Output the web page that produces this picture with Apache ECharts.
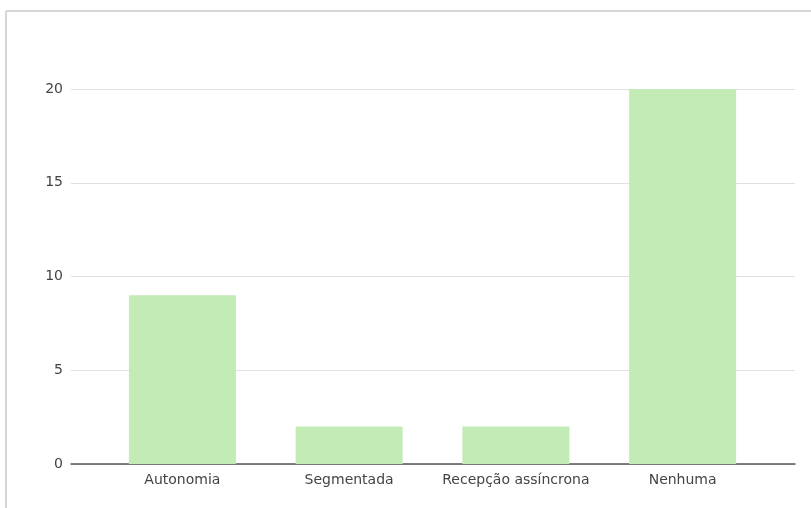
<!DOCTYPE html>
<html>
<head>
<meta charset="utf-8">
<script src="https://cdn.jsdelivr.net/npm/echarts@6/dist/echarts.min.js"></script>
<style>
html, body { margin: 0; padding: 0; background: #fff; }
#chart { width: 811px; height: 508px; }
</style>
</head>
<body>
<div id="chart"></div>
<script>
var categories = ['Autonomia', 'Segmentada', 'Recepção assíncrona', 'Nenhuma'];
var values = [9, 2, 2, 20];
var yTicks = [0, 5, 10, 15, 20];

var myChart = echarts.init(document.getElementById('chart'));
var font = '"DejaVu Sans", sans-serif';
option = {
    animation: false,
    textStyle: { fontFamily: font },
    graphic: [
        // frame of the sheet
        { type: 'line', shape: { x1: 6, y1: 11, x2: 811, y2: 11 }, style: { stroke: '#c8c8c8', lineWidth: 1.5 } },
        { type: 'line', shape: { x1: 6, y1: 11, x2: 6, y2: 508 }, style: { stroke: '#c8c8c8', lineWidth: 1.5 } }
    ],
    grid: [
        { left: 71, right: 16, top: 89, bottom: 44 },   // gridlines + baseline
        { left: 99, right: 45, top: 89, bottom: 44 }    // bars
    ],
    xAxis: [
        {
            type: 'category', gridIndex: 0, data: categories,
            axisLine: { lineStyle: { color: '#555', width: 1.5 } },
            axisTick: { show: false },
            axisLabel: { show: false }
        },
        {
            type: 'category', gridIndex: 1, data: categories,
            axisLine: { show: false },
            axisTick: { show: false },
            axisLabel: { color: '#444', fontSize: 14, margin: 9, interval: 0, hideOverlap: false, fontFamily: font }
        }
    ],
    yAxis: [
        {
            type: 'value', gridIndex: 0,
            min: yTicks[0], max: yTicks[yTicks.length - 1], interval: 5,
            axisLine: { show: false },
            axisTick: { show: false },
            axisLabel: { color: '#444', fontSize: 14, margin: 8, fontFamily: font },
            splitLine: { lineStyle: { color: '#e0e0e0', width: 1 } }
        },
        {
            type: 'value', gridIndex: 1,
            min: yTicks[0], max: yTicks[yTicks.length - 1], interval: 5,
            show: false,
            splitLine: { show: false }
        }
    ],
    series: [
        {
            name: '',
            type: 'bar',
            xAxisIndex: 1,
            yAxisIndex: 1,
            barWidth: 107,
            itemStyle: { color: '#c3ebb5' },
            data: values
        }
    ]
};
myChart.setOption(option);
</script>
</body>
</html>
